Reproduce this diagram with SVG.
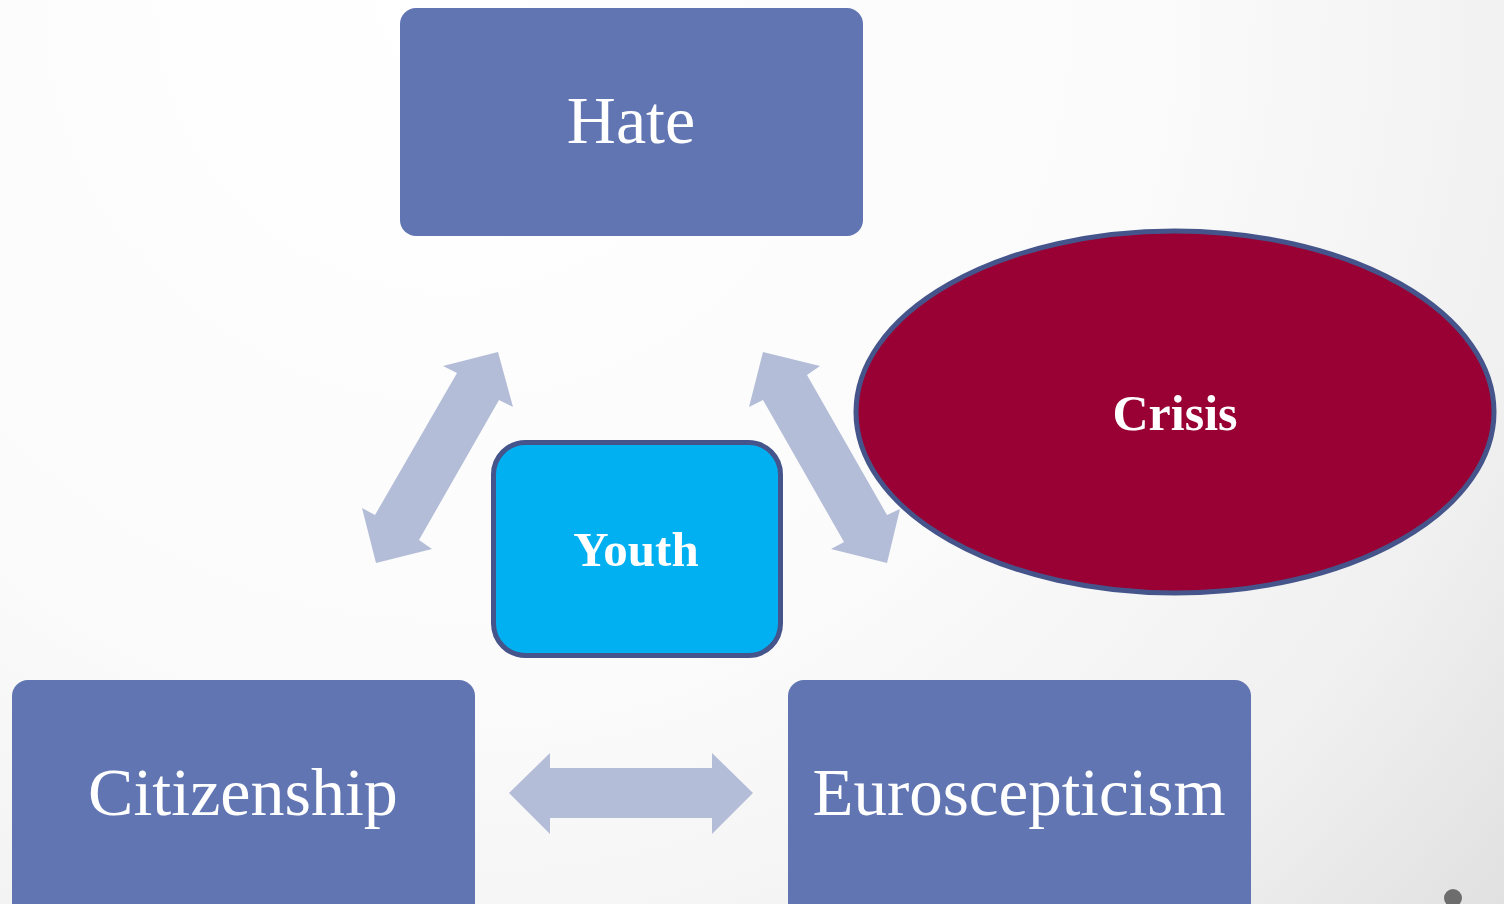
<svg xmlns="http://www.w3.org/2000/svg" width="1504" height="904" viewBox="0 0 1504 904">
<defs>
<radialGradient id="bg" cx="450" cy="0" r="1400" gradientUnits="userSpaceOnUse">
<stop offset="0" stop-color="#ffffff"/>
<stop offset="0.5" stop-color="#fbfbfb"/>
<stop offset="0.8" stop-color="#f0f0f0"/>
<stop offset="1" stop-color="#e0e0e0"/>
</radialGradient>
<style>
.box{fill:#6175b3;}
.arrow{fill:#b4bdd8;}
.lbl{font-family:"Liberation Serif","DejaVu Serif",serif;fill:#ffffff;text-anchor:middle;}
.bold{font-weight:bold;}
</style>
</defs>
<rect x="0" y="0" width="1504" height="904" fill="url(#bg)"/>
<g id="connectors">
<polygon class="arrow" points="498,352 513,407 499,400 419,540 432,549 376,563 362,508 375,515 457,373 443,366"/>
<polygon class="arrow" points="763,352 820,366 807,375 887,515 900,509 887,563 831,549 844,542 763,400 749,407"/>
<polygon class="arrow" points="509,793 550,753 550,768 712,768 712,753 753,793 712,834 712,818 550,818 550,834"/>
</g>
<g id="hate">
<rect class="box" x="400" y="8" width="463" height="228" rx="16"/>
<text class="lbl" x="631" y="143" font-size="68">Hate</text>
</g>
<g id="citizenship">
<rect class="box" x="12" y="680" width="463" height="240" rx="16"/>
<text class="lbl" x="243" y="815" font-size="68">Citizenship</text>
</g>
<g id="euroscepticism">
<rect class="box" x="788" y="680" width="463" height="240" rx="16"/>
<text class="lbl" x="1019" y="815" font-size="67">Euroscepticism</text>
</g>
<g id="youth">
<rect x="493.5" y="442.5" width="287" height="213" rx="32" fill="#00b0f0" stroke="#45548a" stroke-width="5"/>
<text class="lbl bold" x="636" y="566" font-size="49">Youth</text>
</g>
<g id="crisis">
<ellipse cx="1175" cy="412" rx="319" ry="181" fill="#990033" stroke="#45548a" stroke-width="5"/>
<text class="lbl bold" x="1175" y="430" font-size="50">Crisis</text>
</g>
<circle cx="1453" cy="898" r="9" fill="#6d6d6d"/>
</svg>
